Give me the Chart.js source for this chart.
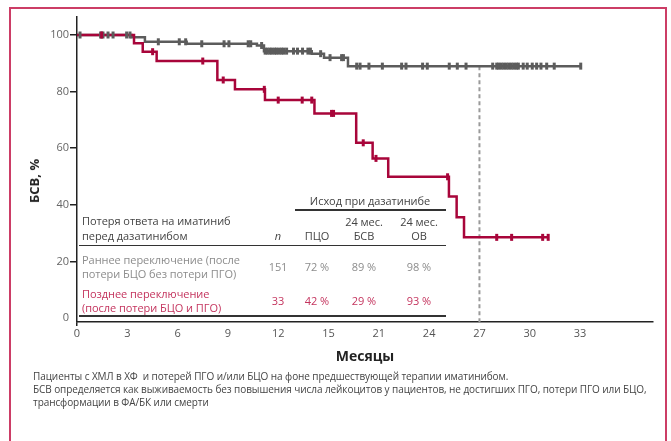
<!DOCTYPE html>
<html lang="ru">
<head>
<meta charset="utf-8">
<script src="https://cdn.jsdelivr.net/npm/chart.js@4.4.1/dist/chart.umd.min.js"></script>
<style>
  body { margin: 0; width: 671px; height: 441px; position: relative; overflow: hidden; background: #fff; font-family: "Open Sans", sans-serif; }
  #ramka { position: absolute; left: 9px; top: 7px; width: 654px; height: 460px; border: 2px solid #cc3d66; }
  #obertka { position: absolute; left: 0; top: 0; width: 671px; height: 441px; }
  .txt { position: absolute; white-space: nowrap; font-size: 11px; line-height: 14px; letter-spacing: -0.05px; }
  .liniya { position: absolute; height: 1.5px; background: #333; }
  #osY { position: absolute; left: 34px; top: 181px; transform: translate(-50%, -50%) rotate(-90deg); font-weight: bold; font-size: 13px; color: #222; white-space: nowrap; }
  #podpis { position: absolute; left: 33px; top: 370px; font-size: 10px; line-height: 13px; color: #444; letter-spacing: -0.08px; }
</style>
</head>
<body>
<div id="ramka"></div>
<div id="obertka"><canvas id="grafikBSV"></canvas></div>
<div id="osY">БСВ, %</div>
<div id="podpis">Пациенты с ХМЛ в ХФ &nbsp;и потерей ПГО и/или БЦО на фоне предшествующей терапии иматинибом.<br>БСВ определяется как выживаемость без повышения числа лейкоцитов у пациентов, не достигших ПГО, потери ПГО или БЦО,<br>трансформации в ФА/БК или смерти</div>
<script>
// Раннее переключение: моменты событий (мес.) и БСВ, %
const ranneeVremya = [0, 3.26, 4.05, 6.54, 10.73, 11.15, 14.0, 14.73, 16.16, 30.04];
const ranneeBSV = [100, 99.2, 97.6, 96.9, 96.3, 94.3, 93.4, 92.0, 89.0, 89.0];
// цензурированные наблюдения
const ranneeCenz = [0.18, 1.41, 1.55, 1.85, 2.15, 2.96, 3.16, 4.85, 6.10, 6.48, 7.44, 8.77, 9.06,
  10.21, 10.36, 11.01, 11.22, 11.35, 11.5, 11.62, 11.78, 11.9, 12.05, 12.2, 12.33, 12.5,
  12.91, 13.15, 13.45, 13.77, 13.92, 14.53, 15.09, 15.78, 15.89, 16.68, 16.88, 17.41, 18.21,
  19.36, 19.62, 20.61, 20.89, 22.2, 22.68, 23.2, 24.79, 25.03, 25.15, 25.3, 25.45, 25.6, 25.75,
  25.9, 26.05, 26.2, 26.32, 26.61, 26.85, 27.15, 27.41, 27.67, 28.01, 28.46, 30.04];

// Позднее переключение
const pozdneeVremya = [0, 3.40, 3.92, 4.75, 8.37, 9.42, 11.21, 14.16, 16.65, 17.63, 18.56, 22.18, 22.64, 23.08, 28.1];
const pozdneeBSV = [100, 97.1, 94.1, 90.8, 84.1, 80.8, 77.0, 72.3, 61.9, 56.4, 49.9, 42.9, 35.6, 28.5, 28.5];
const pozdneeCenz = [1.47, 4.51, 7.50, 8.72, 11.17, 12.0, 13.43, 14.0, 15.18, 15.3, 17.07, 17.83, 22.1, 25.03, 25.92, 27.77, 28.1];

// отметка 24 месяцев
const otmetka24 = 24;

const xTiki = [0, 3, 6, 9, 12, 15, 18, 21, 24, 27, 30];
const xPodpisi = ['0', '3', '6', '9', '12', '15', '21', '24', '27', '30', '33'];
const yTiki = [0, 20, 40, 60, 80, 100];

// таблица исходов
const zagolovokTabl = 'Исход при дазатинибе';
const shapkaSleva = ['Потеря ответа на иматиниб', 'перед дазатинибом'];
const kolonki = [['', 'n'], ['', 'ПЦО'], ['24 мес.', 'БСВ'], ['24 мес.', 'ОВ']];
const gruppy = [['Раннее переключение (после', 'потери БЦО без потери ПГО)'], ['Позднее переключение', '(после потери БЦО и ПГО)']];
const chisloPac = [151, 33];
const pco = [72, 42];
const bsv24 = [89, 29];
const ov24 = [98, 93];

const SERYI = '#5c5c5c';
const KRASNYI = '#a8053a';
const shrift = '"Open Sans", sans-serif';

function naKrivoy(vremya, znach, t) {
  let y = znach[0];
  for (let i = 0; i < vremya.length; i++) {
    if (vremya[i] <= t) y = znach[i];
  }
  return y;
}

function tochki(vremya, znach) {
  return vremya.map((t, i) => ({ x: t, y: znach[i] }));
}

function cenzTochki(cenz, vremya, znach) {
  return cenz.map(t => ({ x: t, y: naKrivoy(vremya, znach, t) }));
}

const yMin = -1.41;
const yMax = 106.36;

new Chart(document.getElementById('grafikBSV'), {
  type: 'scatter',
  data: {
    datasets: [
      {
        data: [{ x: otmetka24, y: naKrivoy(ranneeVremya, ranneeBSV, otmetka24) }, { x: otmetka24, y: yMin }],
        showLine: true, borderColor: '#9a9a9a', borderWidth: 2, borderDash: [4, 3], pointRadius: 0, order: 5
      },
      {
        data: tochki(ranneeVremya, ranneeBSV),
        showLine: true, stepped: true, borderColor: SERYI, borderWidth: 2.5, pointRadius: 0, order: 4
      },
      {
        data: tochki(pozdneeVremya, pozdneeBSV),
        showLine: true, stepped: true, borderColor: KRASNYI, borderWidth: 2.5, pointRadius: 0, order: 3
      },
      {
        data: cenzTochki(ranneeCenz, ranneeVremya, ranneeBSV),
        pointStyle: 'line', pointRotation: 90, pointRadius: 3.5, pointBorderWidth: 3,
        pointBorderColor: SERYI, borderColor: SERYI, order: 2
      },
      {
        data: cenzTochki(pozdneeCenz, pozdneeVremya, pozdneeBSV),
        pointStyle: 'line', pointRotation: 90, pointRadius: 3.5, pointBorderWidth: 3,
        pointBorderColor: KRASNYI, borderColor: KRASNYI, order: 1
      }
    ]
  },
  options: {
    responsive: true,
    maintainAspectRatio: false,
    animation: false,
    events: [],
    layout: { padding: { top: 17, right: 18, left: 0, bottom: 0 } },
    plugins: { legend: { display: false }, tooltip: { enabled: false } },
    scales: {
      x: {
        type: 'linear', min: 0, max: 34.35,
        afterBuildTicks: s => { s.ticks = xTiki.map(v => ({ value: v })); },
        afterFit: s => { s.height = 119; },
        ticks: {
          autoSkip: false, maxRotation: 0, padding: 1, color: '#555',
          font: { family: shrift, size: 11 },
          callback: (v, i) => xPodpisi[i]
        },
        grid: {
          drawOnChartArea: false, tickLength: 4, lineWidth: 1.5,
          color: c => (c.tick && c.tick.value === 0 ? '#222' : 'rgba(0,0,0,0)')
        },
        border: { color: '#222', width: 1.5 },
        title: {
          display: true, text: 'Месяцы', color: '#222',
          font: { family: shrift, size: 14, weight: 'bold' },
          padding: { top: 0, bottom: 76 }
        }
      },
      y: {
        min: yMin, max: yMax,
        afterBuildTicks: s => { s.ticks = yTiki.map(v => ({ value: v })); },
        afterFit: s => { s.width = 77; },
        ticks: { padding: 1, color: '#666', font: { family: shrift, size: 11 } },
        grid: {
          drawOnChartArea: false, tickLength: 7, lineWidth: 1.5,
          color: c => (c.tick && c.tick.value === 0 ? 'rgba(0,0,0,0)' : '#222')
        },
        border: { color: '#222', width: 1.5 }
      }
    }
  }
});

// таблица поверх графика
function tekst(str, x, y, cvet, poCentru, kursiv) {
  const d = document.createElement('div');
  d.className = 'txt';
  d.textContent = str;
  d.style.left = x + 'px';
  d.style.top = (y - 7) + 'px';
  d.style.color = cvet;
  if (poCentru) d.style.transform = 'translateX(-50%)';
  if (kursiv) d.style.fontStyle = 'italic';
  document.body.appendChild(d);
}

function liniya(x1, x2, y) {
  const d = document.createElement('div');
  d.className = 'liniya';
  d.style.left = x1 + 'px';
  d.style.width = (x2 - x1) + 'px';
  d.style.top = (y - 0.75) + 'px';
  document.body.appendChild(d);
}

const kolX = [278, 317, 364, 419];
const cvetaGrupp = ['#8c8c8c', '#c4345e'];

tekst(zagolovokTabl, 370, 200.5, '#444', true);
liniya(295, 446, 210);
tekst(shapkaSleva[0], 82, 221, '#444');
tekst(shapkaSleva[1], 82, 236, '#444');
kolonki.forEach((k, i) => {
  if (k[0]) tekst(k[0], kolX[i], 221.5, '#444', true);
  tekst(k[1], kolX[i], 236, '#444', true, i === 0);
});
liniya(79, 446, 245.5);

gruppy.forEach((g, r) => {
  const y0 = 260 + r * 33.5;
  tekst(g[0], 82, y0, cvetaGrupp[r]);
  tekst(g[1], 82, y0 + 14, cvetaGrupp[r]);
  const stroka = [String(chisloPac[r]), pco[r] + ' %', bsv24[r] + ' %', ov24[r] + ' %'];
  stroka.forEach((s, i) => tekst(s, kolX[i], y0 + 7, cvetaGrupp[r], true));
});
liniya(79, 446, 316);
</script>
</body>
</html>
